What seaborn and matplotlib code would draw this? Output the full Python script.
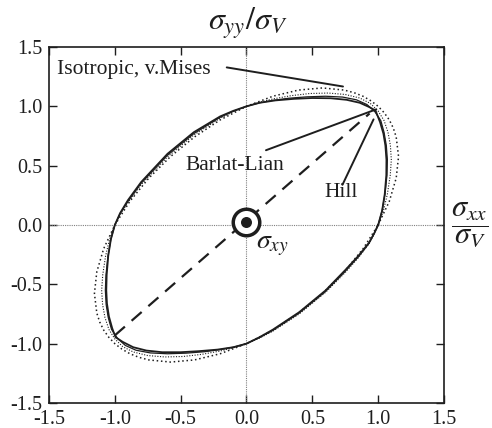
import matplotlib
matplotlib.use("Agg")
import numpy as np
import pandas as pd
import matplotlib.pyplot as plt
import seaborn as sns

sns.set_theme(style="ticks")
plt.rcParams["font.family"] = ["Liberation Serif", "DejaVu Serif"]
plt.rcParams["mathtext.fontset"] = "stix"
plt.rcParams["axes.unicode_minus"] = False

# Normalised yield loci in the sigma_xx / sigma_yy plane (sigma_V = 1),
# each traced counter-clockwise starting at (1, 0).

# Isotropic von Mises locus
mises_x = [1.0, 1.085, 1.137, 1.155, 1.137, 1.115, 1.085, 1.046, 1.0, 0.946, 0.885, 0.817, 0.742,
           0.577, 0.395, 0.200, 0.0, -0.201, -0.395, -0.577, -0.742, -0.885,
           -1.0, -1.085, -1.137, -1.155, -1.137, -1.115, -1.085, -1.046, -1.0, -0.946, -0.885, -0.817, -0.742,
           -0.577, -0.395, -0.200, 0.0, 0.201, 0.395, 0.577, 0.742, 0.885]
mises_y = [0.0, 0.200, 0.395, 0.577, 0.742, 0.817, 0.885, 0.946, 1.0, 1.046, 1.085, 1.115, 1.137,
           1.155, 1.137, 1.085, 1.0, 0.885, 0.742, 0.577, 0.395, 0.201,
           0.0, -0.200, -0.395, -0.577, -0.742, -0.817, -0.885, -0.946, -1.0, -1.046, -1.085, -1.115, -1.137,
           -1.155, -1.137, -1.085, -1.0, -0.885, -0.742, -0.577, -0.395, -0.201]

# Anisotropic locus (fine dotted)
aniso_x = [1.0, 1.04, 1.07, 1.092, 1.10, 1.093, 1.075, 1.045, 1.0, 0.94, 0.86, 0.75, 0.62, 0.48, 0.34, 0.20, 0.10,
           0.0, -0.10, -0.20, -0.40, -0.60, -0.80, -0.90, -0.96,
           -1.0, -1.04, -1.07, -1.092, -1.10, -1.093, -1.075, -1.045, -1.0, -0.94, -0.86, -0.75, -0.62, -0.48,
           -0.34, -0.20, -0.10,
           0.0, 0.10, 0.20, 0.40, 0.60, 0.75, 0.85, 0.93, 0.97]
aniso_y = [0.0, 0.12, 0.26, 0.42, 0.55, 0.67, 0.78, 0.88, 0.96, 1.025, 1.07, 1.10, 1.112, 1.108, 1.09, 1.062, 1.035,
           1.0, 0.955, 0.90, 0.758, 0.574, 0.34, 0.19, 0.09,
           0.0, -0.12, -0.26, -0.42, -0.55, -0.67, -0.78, -0.88, -0.96, -1.025, -1.07, -1.10, -1.112, -1.108,
           -1.09, -1.062, -1.035,
           -1.0, -0.952, -0.895, -0.75, -0.568, -0.40, -0.275, -0.16, -0.075]

# Hill locus (thin solid)
hill_x = [1.0, 1.03, 1.052, 1.067, 1.07, 1.062, 1.045, 1.02, 0.975, 0.915, 0.835, 0.73, 0.60, 0.46, 0.32, 0.20, 0.10,
          0.0, -0.10, -0.20, -0.40, -0.60, -0.80, -0.90, -0.96,
          -1.0, -1.03, -1.052, -1.067, -1.072, -1.066, -1.05, -1.025, -0.98, -0.92, -0.84, -0.73, -0.60, -0.46,
          -0.32, -0.20, -0.10,
          0.0, 0.10, 0.20, 0.40, 0.60, 0.75, 0.85, 0.93, 0.97]
hill_y = [0.0, 0.12, 0.26, 0.42, 0.55, 0.67, 0.78, 0.88, 0.955, 1.015, 1.055, 1.078, 1.085, 1.08, 1.068, 1.05, 1.03,
          1.0, 0.958, 0.908, 0.77, 0.588, 0.352, 0.20, 0.095,
          0.0, -0.12, -0.26, -0.42, -0.55, -0.67, -0.78, -0.88, -0.955, -1.015, -1.055, -1.078, -1.085, -1.08,
          -1.068, -1.05, -1.03,
          -1.0, -0.948, -0.888, -0.742, -0.56, -0.39, -0.268, -0.155, -0.072]

# Barlat-Lian locus (solid, with vertices near equibiaxial tension / compression)
barlat_x = [1.0, 1.03, 1.05, 1.062, 1.063, 1.055, 1.04, 1.015, 0.98, 0.93, 0.86, 0.76, 0.64, 0.50, 0.36, 0.22, 0.10,
            0.0, -0.10, -0.20, -0.40, -0.60, -0.80, -0.90, -0.96,
            -1.0, -1.03, -1.05, -1.062, -1.065, -1.06, -1.045, -1.02, -0.995, -0.94, -0.86, -0.76, -0.64, -0.50,
            -0.36, -0.22, -0.10,
            0.0, 0.10, 0.20, 0.40, 0.60, 0.75, 0.85, 0.93, 0.97]
barlat_y = [0.0, 0.12, 0.26, 0.42, 0.55, 0.67, 0.77, 0.865, 0.965, 0.995, 1.03, 1.055, 1.068, 1.07, 1.063, 1.05, 1.03,
            1.0, 0.962, 0.915, 0.782, 0.60, 0.362, 0.21, 0.10,
            0.0, -0.12, -0.26, -0.42, -0.55, -0.66, -0.77, -0.87, -0.945, -0.985, -1.03, -1.058, -1.072, -1.072,
            -1.063, -1.05, -1.03,
            -1.0, -0.945, -0.882, -0.735, -0.552, -0.38, -0.26, -0.15, -0.07]

# Loading path through the origin
path_x = [-1.0, 0.935]
path_y = [-0.93, 0.94]

tick_values = [-1.5, -1.0, -0.5, 0.0, 0.5, 1.0, 1.5]

INK = "#1e1e1e"

fig = plt.figure(figsize=(4.92, 4.28), dpi=100)
ax = fig.add_axes([0.0996, 0.0584, 0.8028, 0.8318])


def locus(xs, ys, **kw):
    df = pd.DataFrame({"s_xx": list(xs) + [xs[0]], "s_yy": list(ys) + [ys[0]]})
    sns.lineplot(data=df, x="s_xx", y="s_yy", sort=False, estimator=None,
                 ax=ax, color=INK, **kw)


# zero axes
ax.axhline(0, color="#808080", lw=0.8, linestyle=(0, (1, 1)), zorder=1)
ax.axvline(0, color="#808080", lw=0.8, linestyle=(0, (1, 1)), zorder=1)

locus(mises_x, mises_y, lw=1.1, linestyle=(0, (1, 1.8)))
locus(aniso_x, aniso_y, lw=0.8, linestyle=(0, (1, 1.4)))
locus(hill_x, hill_y, lw=0.9)
locus(barlat_x, barlat_y, lw=1.3)

sns.lineplot(x=path_x, y=path_y, sort=False, estimator=None, ax=ax, color=INK,
             lw=1.6, linestyle=(0, (6, 4)))

# out-of-plane shear symbol
ax.scatter([0.0], [0.028], s=364, facecolor="white", edgecolor=INK, linewidth=2.5, zorder=5)
ax.scatter([0.0], [0.028], s=63, color=INK, linewidth=0, zorder=6)
ax.text(0.072, -0.195, r"$\sigma_{xy}$", fontsize=20, color=INK, ha="left", va="baseline")

# labels with leader lines
ax.text(-1.436, 1.27, "Isotropic, v.Mises", fontsize=15.5, color=INK, ha="left", va="baseline")
ax.plot([-0.15, 0.733], [1.328, 1.167], color=INK, lw=1.4)
ax.text(-0.466, 0.466, "Barlat-Lian", fontsize=15.5, color=INK, ha="left", va="baseline")
ax.plot([0.148, 0.986], [0.63, 0.975], color=INK, lw=1.4)
ax.text(0.595, 0.235, "Hill", fontsize=15.5, color=INK, ha="left", va="baseline")
ax.plot([0.729, 0.965], [0.339, 0.89], color=INK, lw=1.4)

ax.set_xlim(-1.5, 1.5)
ax.set_ylim(-1.5, 1.5)
ax.set_xticks(tick_values)
ax.set_yticks(tick_values)
ax.set_xticklabels([f"{v:.1f}" for v in tick_values])
ax.set_yticklabels([f"{v:.1f}" for v in tick_values])
ax.tick_params(direction="in", top=True, right=True, length=6, width=1.0,
               labelsize=14.5, colors=INK, pad=5)
ax.set_xlabel("")
ax.set_ylabel("")
for sp in ax.spines.values():
    sp.set_linewidth(1.2)
    sp.set_color(INK)

fig.text(0.504, 0.93, r"$\sigma_{yy}/\sigma_V$", fontsize=23, color=INK, ha="center", va="baseline")
fig.text(0.955, 0.474, r"$\dfrac{\sigma_{xx}}{\sigma_V}$", fontsize=22, color=INK,
         ha="center", va="center")

fig.savefig("out.png", dpi=100, facecolor="white")
